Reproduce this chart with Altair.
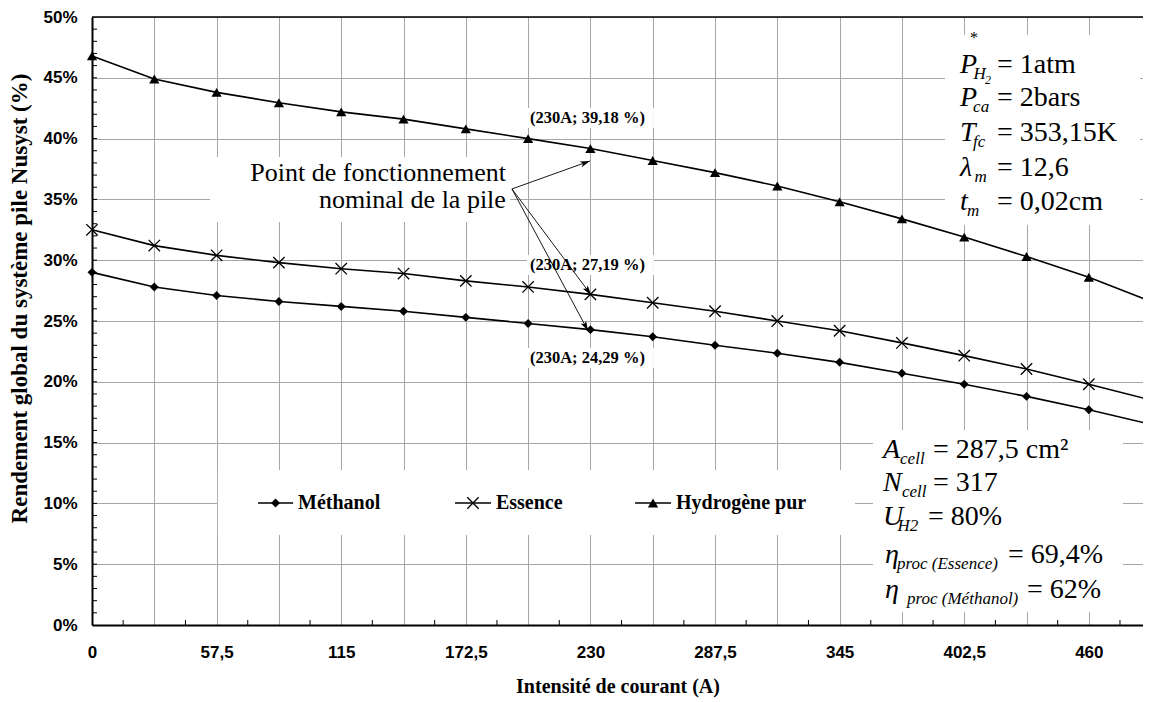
import math
import altair as alt
import pandas as pd

# ---------------- data ----------------
courant = [0, 28.75, 57.5, 86.25, 115, 143.75, 172.5, 201.25, 230, 258.75,
           287.5, 316.25, 345, 373.75, 402.5, 431.25, 460, 488.75]
methanol = [29.0, 27.8, 27.1, 26.6, 26.2, 25.8, 25.3, 24.8, 24.29, 23.7,
            23.0, 22.35, 21.6, 20.7, 19.8, 18.8, 17.7, 16.5]
essence = [32.5, 31.2, 30.4, 29.8, 29.3, 28.9, 28.3, 27.8, 27.19, 26.5,
           25.8, 25.0, 24.2, 23.2, 22.15, 21.05, 19.8, 18.5]
hydrogene = [46.8, 44.9, 43.8, 42.95, 42.2, 41.6, 40.8, 40.0, 39.18, 38.2,
             37.2, 36.1, 34.8, 33.4, 31.9, 30.3, 28.6, 26.6]
series = ["Méthanol", "Essence", "Hydrogène pur"]

x_grid = [0, 28.75, 57.5, 86.25, 115, 143.75, 172.5, 201.25, 230, 258.75,
          287.5, 316.25, 345, 373.75, 402.5, 431.25, 460]
x_minor = [14.375, 43.125, 71.875, 100.625, 129.375, 158.125, 186.875, 215.625,
           244.375, 273.125, 301.875, 330.625, 359.375, 388.125, 416.875,
           445.625, 474.375]
y_major = [0, 5, 10, 15, 20, 25, 30, 35, 40, 45, 50]
y_minor = [v for v in range(1, 50)]

# ---------------- layout ----------------
W, H = 1051, 608
XMAX, YMAX = 485, 50
SERIF = "Liberation Serif"
SANS = "Liberation Sans"

xscale = alt.Scale(domain=[0, XMAX], nice=False, zero=False)
yscale = alt.Scale(domain=[0, YMAX], nice=False, zero=False)

xaxis = alt.Axis(
    title="Intensité de courant (A)", values=x_grid,
    labelExpr="datum.value % 57.5 == 0 ? replace(toString(datum.value), '.', ',') : ''",
    ticks=False, tickSize=0, grid=True, labelOverlap=False, labelFlush=False,
    labelFont=SANS, labelFontWeight="bold", labelFontSize=17, labelPadding=19,
    titleFont=SERIF, titleFontWeight="bold", titleFontSize=20, titlePadding=16,
)
yaxis = alt.Axis(
    title="Rendement global du système pile Nusyst (%)", values=y_major,
    labelExpr="datum.value + '%'", ticks=False, tickSize=0, grid=True,
    labelFont=SANS, labelFontWeight="bold", labelFontSize=17, labelPadding=15,
    titleFont=SERIF, titleFontWeight="bold", titleFontSize=23, titleAngle=270,
    titleX=-73, titleY=281, titleAlign="center", titleBaseline="middle",
)


def X(f="I"):
    return alt.X(f"{f}:Q", scale=xscale, axis=xaxis)


def Y(f="R"):
    return alt.Y(f"{f}:Q", scale=yscale, axis=yaxis)


rows = []
for name, vals in zip(series, [methanol, essence, hydrogene]):
    for i, v in zip(courant, vals):
        rows.append({"serie": name, "I": i, "R": v})
df = pd.DataFrame(rows)

# white boxes behind annotations (I, I2, R, R2)
boxes = pd.DataFrame({
    "I": [393.6, 360.4, 58.1, 54.5, 200.7, 200.7, 200.7],
    "I2": [483.6, 475.8, 352.1, 192.9, 259.3, 259.3, 259.3],
    "R": [48.52, 16.04, 12.75, 38.49, 42.52, 30.43, 22.78],
    "R2": [32.89, 1.07, 7.40, 33.14, 40.87, 28.78, 21.13],
})
rects = alt.Chart(boxes).mark_rect(color="white").encode(
    x=X(), x2=alt.X2("I2:Q"), y=Y(), y2=alt.Y2("R2:Q"))

top_border = alt.Chart(pd.DataFrame({"I": [0]})).mark_rule(
    color="black", strokeWidth=1.5).encode(
    x=alt.value(0), x2=alt.value(W), y=alt.value(0))

ymt = alt.Chart(pd.DataFrame({"R": y_minor})).mark_rule(
    color="black", strokeWidth=1).encode(y=Y(), x=alt.value(0), x2=alt.value(5))
xmt = alt.Chart(pd.DataFrame({"I": x_minor})).mark_rule(
    color="black", strokeWidth=1).encode(x=X(), y=alt.value(H), y2=alt.value(H - 5))

lines = alt.Chart(df).mark_line(color="black", strokeWidth=1.6).encode(
    x=X(), y=Y(), detail="serie:N")

XSHAPE = "M-1,-1L1,1M-1,1L1,-1"
pt_m = alt.Chart(df[df.serie == series[0]]).mark_point(
    shape="diamond", filled=True, color="black", size=80, opacity=1).encode(x=X(), y=Y())
pt_e = alt.Chart(df[df.serie == series[1]]).mark_point(
    shape=XSHAPE, filled=False, color="black", size=130, strokeWidth=1.3, opacity=1).encode(x=X(), y=Y())
pt_h = alt.Chart(df[df.serie == series[2]]).mark_point(
    shape="triangle-up", filled=True, color="black", size=105, opacity=1).encode(x=X(), y=Y())

# arrows
a_start = (193.8, 35.86)
a_ends = [(229.8, 38.16), (230.3, 27.15), (228.9, 24.2)]
kx, ky = W / XMAX, H / YMAX
arr = pd.DataFrame({
    "I": [a_start[0]] * 3, "R": [a_start[1]] * 3,
    "I2": [e[0] for e in a_ends], "R2": [e[1] for e in a_ends],
})
arr["angle"] = [
    math.degrees(math.atan2((e[0] - a_start[0]) * kx, (e[1] - a_start[1]) * ky)) % 360
    for e in a_ends
]
arrow_lines = alt.Chart(arr).mark_rule(color="black", strokeWidth=0.9).encode(
    x=X(), y=Y(), x2=alt.X2("I2:Q"), y2=alt.Y2("R2:Q"))
heads = pd.DataFrame({"I": arr["I2"], "R": arr["R2"], "angle": arr["angle"]})
arrow_heads = alt.Chart(heads).mark_point(
    shape="M0,0L0.5,1.6L0,1.2L-0.5,1.6Z", filled=True, color="black", size=150, opacity=1
).encode(x=X(), y=Y(), angle=alt.Angle("angle:Q", scale=None))


def text_layer(d, **kw):
    return alt.Chart(d).mark_text(baseline="middle", color="black", **kw).encode(
        x=X(), y=Y(), text="t:N", size=alt.Size("fs:Q", scale=None))


line_R_top = [46.05, 43.34, 40.46, 37.58, 34.79]
line_R_bot = [14.39, 11.68, 8.88, 5.76, 2.88]

reg = pd.DataFrame({
    "t": ["= 1atm", "= 2bars", "= 353,15K", "= 12,6", "= 0,02cm",
          "= 287,5 cm²", "= 317", "= 80%", "= 69,4%", "= 62%", "*"],
    "I": [417.6] * 5 + [388.1, 388.1, 385.8, 422.7, 431.5, 405.2],
    "R": line_R_top + line_R_bot + [48.27],
    "fs": [28] * 10 + [16],
})
ital = pd.DataFrame({
    "t": ["P", "P", "T", "λ", "t", "A", "N", "U", "η", "η"],
    "I": [400.6] * 5 + [365.0, 365.0, 365.0, 365.9, 365.9],
    "R": line_R_top + line_R_bot,
    "fs": [28] * 10,
})
subs = pd.DataFrame({
    "t": ["H", "2", "ca", "fc", "m", "m", "cell", "cell", "H2",
          "proc (Essence)", "proc (Méthanol)"],
    "I": [406.8, 412.1, 406.6, 406.6, 407.3, 403.8, 372.9, 373.8, 371.7, 371.5, 376.1],
    "R": [46.05, 45.6, 43.34, 40.46, 37.58, 34.79, 14.39, 11.68, 8.88, 5.76, 2.88],
    "fs": [17, 12, 17, 17, 17, 17, 17, 17, 17, 17, 17],
})
right_txt = pd.DataFrame({
    "t": ["Point de fonctionnement", "nominal de la pile"],
    "I": [191.0, 191.0], "R": [37.17, 34.95], "fs": [26, 26],
})


def lab(v):
    return "(230A; " + f"{v:.2f}".replace(".", ",") + " %)"


bold = pd.DataFrame({
    "t": [lab(hydrogene[8]), lab(essence[8]), lab(methanol[8])] + series,
    "I": [202.1, 202.1, 202.1, 95.1, 186.4, 269.5],
    "R": [41.69, 29.61, 21.96, 10.03, 10.03, 10.03],
    "fs": [16.5, 16.5, 16.5, 20, 20, 20],
})

t_reg = text_layer(reg, align="left", font=SERIF)
t_ital = text_layer(ital, align="left", font=SERIF, fontStyle="italic")
t_sub = text_layer(subs, align="left", font=SERIF, fontStyle="italic", dy=9)
t_right = text_layer(right_txt, align="right", font=SERIF)
t_bold = text_layer(bold, align="left", font=SERIF, fontWeight="bold")

# legend symbols
leg = pd.DataFrame({
    "serie": series,
    "I": [76.6, 167.5, 250.6], "I2": [92.8, 184.1, 267.2],
    "R": [10.03, 10.03, 10.03],
})
leg["Im"] = (leg["I"] + leg["I2"]) / 2
leg_lines = alt.Chart(leg).mark_rule(color="black", strokeWidth=1.6).encode(
    x=X(), x2=alt.X2("I2:Q"), y=Y())
leg_m = alt.Chart(leg[leg.serie == series[0]]).mark_point(
    shape="diamond", filled=True, color="black", size=80, opacity=1).encode(x=X("Im"), y=Y())
leg_e = alt.Chart(leg[leg.serie == series[1]]).mark_point(
    shape=XSHAPE, filled=False, color="black", size=130, strokeWidth=1.3, opacity=1).encode(x=X("Im"), y=Y())
leg_h = alt.Chart(leg[leg.serie == series[2]]).mark_point(
    shape="triangle-up", filled=True, color="black", size=105, opacity=1).encode(x=X("Im"), y=Y())

chart = alt.layer(
    rects, top_border, ymt, xmt, lines, pt_m, pt_e, pt_h,
    arrow_lines, arrow_heads, leg_lines, leg_m, leg_e, leg_h,
    t_reg, t_ital, t_sub, t_right, t_bold,
).properties(
    width=W, height=H,
    autosize=alt.AutoSizeParams(type="none"),
    padding={"left": 84, "top": 9, "right": 0, "bottom": 75},
).configure_view(strokeWidth=0).configure_axis(
    gridColor="#a6a6a6", gridWidth=1, domainColor="black", domainWidth=2,
    labelColor="black", titleColor="black",
)

chart.save("out.html", embed_options={"renderer": "svg", "actions": False})
